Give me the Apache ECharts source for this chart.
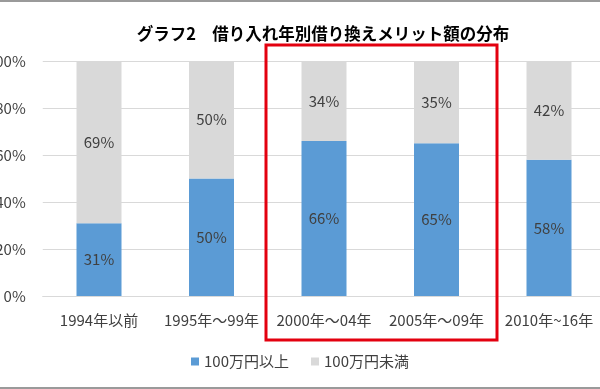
<!DOCTYPE html>
<html><head><meta charset="utf-8">
<script src="https://cdn.jsdelivr.net/npm/echarts@6/dist/echarts.min.js"></script>
<style>html,body{margin:0;padding:0;background:#fff}#c{width:600px;height:389px}</style>
</head><body><div id="c"></div>
<script>
const categories = ['1994年以前','1995年～99年','2000年～04年','2005年～09年','2010年~16年'];
const over100 = [31, 50, 66, 65, 58];
const under100 = [69, 50, 34, 35, 42];
const yTicks = [0, 20, 40, 60, 80, 100];
const seriesNames = ['100万円以上','100万円未満'];

const FONT = '"Noto Sans CJK JP", sans-serif';
const chart = echarts.init(document.getElementById('c'));
const lbl = {show:true, position:'inside', color:'#404040', fontSize:15, fontFamily:FONT, formatter: p => p.value + '%'};
chart.setOption({
  animation:false,
  title:{text:'グラフ2　借り入れ年別借り換えメリット額の分布', left:318, top:20, textAlign:'center',
    textStyle:{fontSize:16.5, fontWeight:'bold', color:'#000', fontFamily:FONT}},
  legend:{data:seriesNames, top:349, left:'center', itemWidth:8, itemHeight:8, itemGap:22, icon:'rect',
    textStyle:{fontSize:15, color:'#404040', fontFamily:FONT}},
  grid:{left:42.75, right:-5.25, top:61, bottom:93, outerBoundsMode:'none', containLabel:false},
  xAxis:{type:'category', data:categories, axisTick:{show:false},
    axisLine:{lineStyle:{color:'#d9d9d9'}},
    axisLabel:{color:'#404040', fontSize:15, fontFamily:FONT, margin:17, interval:0}},
  yAxis:{type:'value', min:yTicks[0], max:yTicks[yTicks.length-1], interval:20,
    axisLabel:{color:'#404040', fontSize:15, fontFamily:FONT, margin:17, formatter:v=>v+'%'},
    splitLine:{lineStyle:{color:'#d9d9d9'}}, axisLine:{show:false}, axisTick:{show:false}},
  series:[
    {name:seriesNames[0], type:'bar', stack:'a', data:over100, barWidth:45, itemStyle:{color:'#5B9BD5'}, label:lbl},
    {name:seriesNames[1], type:'bar', stack:'a', data:under100, barWidth:45, itemStyle:{color:'#D9D9D9'}, label:lbl}
  ],
  graphic:[
    {type:'rect', shape:{x:266, y:45, width:231, height:295}, style:{fill:'none', stroke:'#e3000f', lineWidth:3}, z:100},
    {type:'rect', shape:{x:0, y:0, width:600, height:2}, style:{fill:'#9a9a9a'}},
    {type:'rect', shape:{x:0, y:387, width:600, height:2}, style:{fill:'#9a9a9a'}}
  ]
});
</script></body></html>
